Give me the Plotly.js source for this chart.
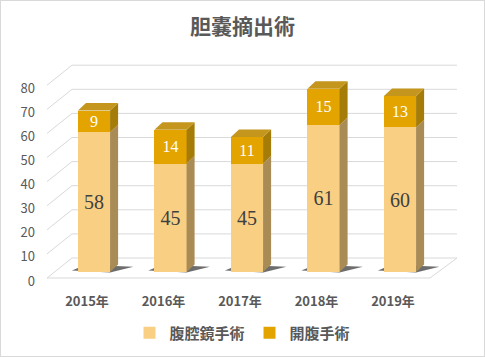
<!DOCTYPE html>
<html><head><meta charset="utf-8">
<script src="https://cdn.plot.ly/plotly-3.0.1.min.js"></script>
<style>
html,body{margin:0;padding:0;background:#fff}
#wrap{position:relative;width:485px;height:357px}
#chart{width:485px;height:357px}
#frame{position:absolute;left:0;top:0;width:483px;height:355px;border:1px solid #d9d9d9;pointer-events:none}
</style>
</head><body>
<div id="wrap"><div id="chart"></div><div id="frame"></div></div>
<script>
// ---- data ----
const years = ['2015年', '2016年', '2017年', '2018年', '2019年'];
const seriesNames = ['腹腔鏡手術', '開腹手術'];
const laparoscopic = [58, 45, 45, 61, 60];
const openSurgery = [9, 14, 11, 15, 13];
const yTicks = [0, 10, 20, 30, 40, 50, 60, 70, 80];

// ---- style ----
const FONT = 'Noto Sans CJK JP';
const BW = 0.42, DX = 0.105, DY = 3.1;          // bar width, 3D depth offsets
const GF = -2.49, GB = 5.81;                    // grid front/back offsets (axis units)
const GXF = -0.614, GXB = -0.288, GXR = 4.745, GXFR = 4.392;
const idx = years.map((_, i) => i);

const shapes = [];
// perspective grid
yTicks.forEach(v => {
  const fy = v + GF, by = v + GB;
  shapes.push({type: 'path', xref: 'x', yref: 'y', layer: 'below',
    path: `M ${GXF},${fy} L ${GXB},${by} L ${GXR},${by}`,
    line: {color: '#D9D9D9', width: 1}});
  if (v === 0) {
    shapes.push({type: 'path', xref: 'x', yref: 'y', layer: 'below',
      path: `M ${GXF},${fy} L ${GXFR},${fy} L ${GXR},${by}`,
      line: {color: '#D9D9D9', width: 1}});
  }
});
// shadows
idx.forEach(i => {
  const xl = i - BW / 2, xr = i + BW / 2;
  shapes.push({type: 'path', xref: 'x', yref: 'y', layer: 'below',
    path: `M ${xl - 0.08},0.6 L ${xr},-0.2 L ${xr + DX + 0.2},2.2 L ${xl + DX},3.0 Z`,
    fillcolor: 'rgba(60,60,60,0.75)', line: {width: 0}});
});
// 3D faces
idx.forEach(i => {
  const xl = i - BW / 2, xr = i + BW / 2;
  const y1 = laparoscopic[i], y2 = laparoscopic[i] + openSurgery[i];
  shapes.push({type: 'path', xref: 'x', yref: 'y', layer: 'above',
    path: `M ${xr},0 L ${xr + DX},${DY} L ${xr + DX},${y1 + DY} L ${xr},${y1} Z`,
    fillcolor: '#A98B55', line: {width: 0}});
  shapes.push({type: 'path', xref: 'x', yref: 'y', layer: 'above',
    path: `M ${xr},${y1} L ${xr + DX},${y1 + DY} L ${xr + DX},${y2 + DY} L ${xr},${y2} Z`,
    fillcolor: '#A67C08', line: {width: 0}});
  shapes.push({type: 'path', xref: 'x', yref: 'y', layer: 'above',
    path: `M ${xl},${y2} L ${xl + DX},${y2 + DY} L ${xr + DX},${y2 + DY} L ${xr},${y2} Z`,
    fillcolor: '#C4961E', line: {width: 0}});
});

const traces = [
  {type: 'bar', name: seriesNames[0], x: idx, y: laparoscopic, width: BW,
   marker: {color: '#F9D083', line: {width: 0}},
   text: laparoscopic.map(String), textposition: 'inside', insidetextanchor: 'middle',
   textangle: 0, constraintext: 'none',
   textfont: {family: 'Liberation Serif', size: 20, color: '#404040'}, hoverinfo: 'skip'},
  {type: 'bar', name: seriesNames[1], x: idx, y: openSurgery, width: BW,
   marker: {color: '#E3A400', line: {width: 0}},
   text: openSurgery.map(String), textposition: 'inside', insidetextanchor: 'middle',
   textangle: 0, constraintext: 'none',
   textfont: {family: 'Liberation Serif', size: 16, color: '#FFFFFF'}, hoverinfo: 'skip'}
];

const layout = {
  width: 485, height: 357,
  margin: {l: 40, r: 15, t: 40, b: 40, autoexpand: false},
  paper_bgcolor: '#FFFFFF', plot_bgcolor: '#FFFFFF',
  barmode: 'stack',
  title: {text: '胆嚢摘出術', x: 0.5, xanchor: 'center', xref: 'container',
          y: 0.924, yanchor: 'middle', yref: 'container',
          font: {family: FONT, size: 21, color: '#595959', weight: 'bold'}},
  xaxis: {range: [-0.7059, 4.915], tickvals: idx, ticktext: years,
          anchor: 'free', position: 0.1408, automargin: false,
          showgrid: false, zeroline: false, showline: false, ticks: '',
          ticklabelshift: -7, ticklabelstandoff: 14,
          tickfont: {family: FONT, size: 13, color: '#595959', weight: 'bold'}},
  yaxis: {range: [-18.672, 96.266], tickvals: yTicks, automargin: false,
          showgrid: false, zeroline: false, showline: false, ticks: '',
          ticklabelshift: 9, ticklabelstandoff: 4,
          tickfont: {family: FONT, size: 13, color: '#595959'}},
  showlegend: true,
  legend: {orientation: 'h', x: 0.5, xanchor: 'center', xref: 'container',
           y: 0.067, yanchor: 'middle', yref: 'container',
           traceorder: 'normal', itemwidth: 30,
           font: {family: FONT, size: 15, color: '#595959', weight: 'bold'}},
  shapes: shapes
};

Plotly.newPlot('chart', traces, layout, {displayModeBar: false, staticPlot: true});
</script>
</body></html>
